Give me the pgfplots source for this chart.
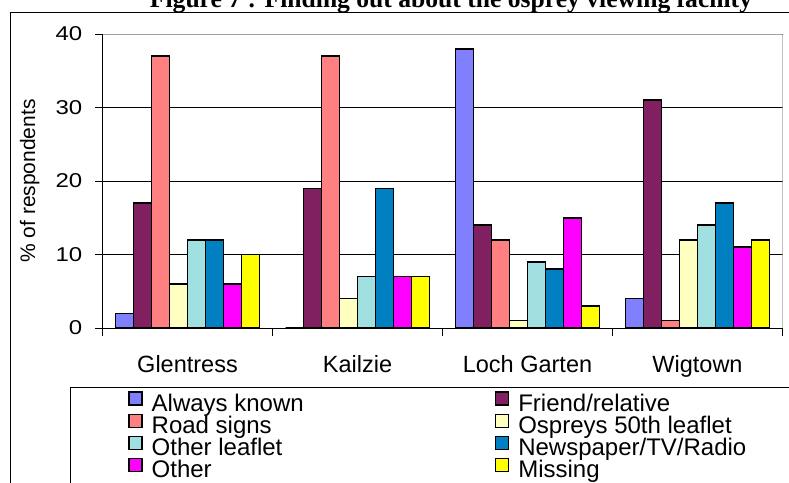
\documentclass[border=0pt]{standalone}
\usepackage{fontspec}
\setmainfont{Liberation Sans}
\newfontfamily\titlefont{Liberation Serif}
\newfontfamily\tickfont[FakeStretch=1.2]{Liberation Sans}
\usepackage{pgfplots}
\pgfplotsset{compat=1.18}
\definecolor{cAlways}{HTML}{8080FF}
\definecolor{cFriend}{HTML}{802060}
\definecolor{cRoad}{HTML}{FF8080}
\definecolor{cOsprey}{HTML}{FFFFC0}
\definecolor{cLeaflet}{HTML}{A0E0E0}
\definecolor{cNews}{HTML}{0080C0}
\definecolor{cOther}{HTML}{FF00FF}
\definecolor{cMissing}{HTML}{FFFF00}
\definecolor{cBorder}{HTML}{A0A0A0}
\begin{document}
\begin{tikzpicture}[x=1pt,y=1pt]
\path[use as bounding box] (0,0) rectangle (789,482);
\draw[black, line width=0.9pt] (10,-60) rectangle (900,470);
\draw[black, line width=0.9pt] (70,-60) rectangle (900,94.7);
\node[font=\titlefont\bfseries\fontsize{25.6}{26}\selectfont, anchor=base, inner sep=0pt] at (451,474) {Figure 7 : Finding out about the osprey viewing facility};
\begin{axis}[
  at={(102.5pt,154pt)}, anchor=south west,
  scale only axis, width=680pt, height=294pt,
  xmin=-0.5, xmax=3.5, ymin=0, ymax=40,
  ybar=0pt, bar width=18pt,
  axis x line*=bottom, axis y line*=left,
  axis line style={black, line width=0.9pt},
  xtick={0,1,2,3}, xticklabels={Glentress,Kailzie,Loch Garten,Wigtown},
  minor xtick={-0.5,0.5,1.5,2.5,3.5},
  ytick={0,10,20,30,40},
  tick align=outside,
  major tick length=7pt, minor tick length=8pt,
  major x tick style={draw=none},
  tick style={black, line width=0.8pt},
  ymajorgrids, grid style={black, line width=0.8pt},
  /pgf/number format/assume math mode=true,
  yticklabel style={font=\tickfont\fontsize{20}{20}\selectfont, inner sep=0pt, xshift=-13pt},
  xticklabel style={font=\fontsize{23.5}{23.5}\selectfont, anchor=base, inner sep=0pt, yshift=-37pt},
  ylabel={\% of respondents},
  ylabel style={font=\fontsize{21}{21}\selectfont, at={(axis description cs:-0.107,0.5)}, anchor=center},
  legend columns=2,
  legend cell align=left,
  legend style={at={(axis description cs:0.0375,-0.215)}, anchor=north west, draw=none, fill=none,
    font=\fontsize{24}{24}\selectfont, inner sep=0pt, row sep=-2pt,
    nodes={inner sep=0pt, text height=16.5pt, text depth=4.2pt},
    /tikz/every odd column/.append style={column sep=9pt},
    /tikz/every even column/.append style={column sep=191pt}},
  legend image code/.code={\draw[#1, draw=black, line width=1.5pt] (0pt,0pt) rectangle (13pt,13pt);},
  every axis plot/.append style={draw=black, line width=1.6pt},
]
\addplot[fill=cAlways] coordinates {(0,2) (1,0) (2,38) (3,4)};
\addplot[fill=cFriend] coordinates {(0,17) (1,19) (2,14) (3,31)};
\addplot[fill=cRoad] coordinates {(0,37) (1,37) (2,12) (3,1)};
\addplot[fill=cOsprey] coordinates {(0,6) (1,4) (2,1) (3,12)};
\addplot[fill=cLeaflet] coordinates {(0,12) (1,7) (2,9) (3,14)};
\addplot[fill=cNews] coordinates {(0,12) (1,19) (2,8) (3,17)};
\addplot[fill=cOther] coordinates {(0,6) (1,7) (2,15) (3,11)};
\addplot[fill=cMissing] coordinates {(0,10) (1,7) (2,3) (3,12)};
\legend{Always known, Friend/relative, Road signs, Ospreys 50th leaflet, Other leaflet, Newspaper/TV/Radio, Other, Missing}
\draw[cBorder, line width=1pt] (rel axis cs:0,1) -- (rel axis cs:1,1) -- (rel axis cs:1,0);
\end{axis}
\end{tikzpicture}
\end{document}
